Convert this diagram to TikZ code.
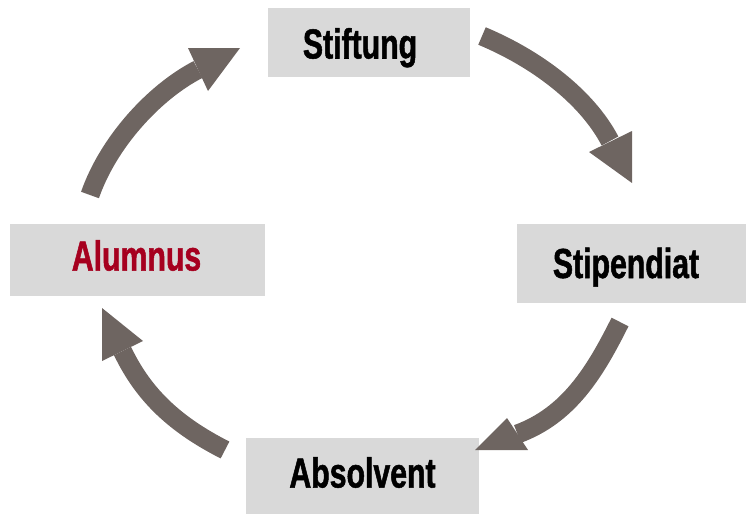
\documentclass[tikz,border=0pt]{standalone}
\usepackage{fontspec}
\newfontfamily\condfont{Liberation Sans Bold}[FakeStretch=0.72, FakeBold=1.2]
\definecolor{boxgray}{HTML}{D9D9D9}
\definecolor{arrowgray}{HTML}{6E6561}
\definecolor{alured}{HTML}{A6001F}
\begin{document}
\begin{tikzpicture}[x=1pt,y=-1pt,
  box/.style={fill=boxgray, draw=none, inner sep=0pt},
  lbl/.style={font=\condfont\fontsize{42}{42}\selectfont, inner sep=0pt, text height=30pt, text depth=0pt},
  shaft/.style={draw=arrowgray, line width=19pt, line cap=butt},
  head/.style={fill=arrowgray}]
\useasboundingbox (0,0) rectangle (746,514);
% boxes
\node[box, minimum width=202pt, minimum height=69pt] (stiftbox) at (369,42.5) {};
\node[box, minimum width=229pt, minimum height=79pt] (stipbox) at (631.5,263.5) {};
\node[box, minimum width=233pt, minimum height=76pt] (absbox) at (362.5,476) {};
\node[box, minimum width=255pt, minimum height=72pt] (alubox) at (137.5,260) {};
% labels
\node[lbl] (stift) at (360,43.5) {Stiftung};
\node[lbl] (stip) at (626,263) {Stipendiat};
\node[lbl] (abs) at (362.5,472.5) {Absolvent};
\node[lbl, text=alured] (alu) at (136.5,255.5) {Alumnus};
% arrow 1: Stiftung -> Stipendiat
\coordinate (t1) at (482,36);
\coordinate (b1) at (610,141);
\coordinate (p1) at (632,183);
\coordinate (l1) at (589,152);
\coordinate (r1) at (632,131);
\draw[shaft] (t1) .. controls (537,59) and (587,97) .. (b1);
\fill[head] (p1) -- (l1) -- (r1) -- cycle;
% arrow 2: Stipendiat -> Absolvent
\coordinate (t2) at (620,322);
\coordinate (b2) at (517.5,434);
\coordinate (p2) at (475,450);
\coordinate (l2) at (507,418);
\coordinate (r2) at (528,450);
\draw[shaft] (t2) .. controls (595,372) and (569,415) .. (b2);
\fill[head] (p2) -- (l2) -- (r2) -- cycle;
% arrow 3: Absolvent -> Alumnus
\coordinate (t3) at (225,450);
\coordinate (b3) at (122.5,351);
\coordinate (p3) at (102,308);
\coordinate (l3) at (102,361);
\coordinate (r3) at (143,341);
\draw[shaft] (t3) .. controls (176,425) and (144,396) .. (b3);
\fill[head] (p3) -- (l3) -- (r3) -- cycle;
% arrow 4: Alumnus -> Stiftung
\coordinate (t4) at (90,195);
\coordinate (b4) at (198,69.5);
\coordinate (p4) at (240,48);
\coordinate (l4) at (188,48);
\coordinate (r4) at (208,91);
\draw[shaft] (t4) .. controls (108,143) and (153.5,92.5) .. (b4);
\fill[head] (p4) -- (l4) -- (r4) -- cycle;
\end{tikzpicture}
\end{document}
